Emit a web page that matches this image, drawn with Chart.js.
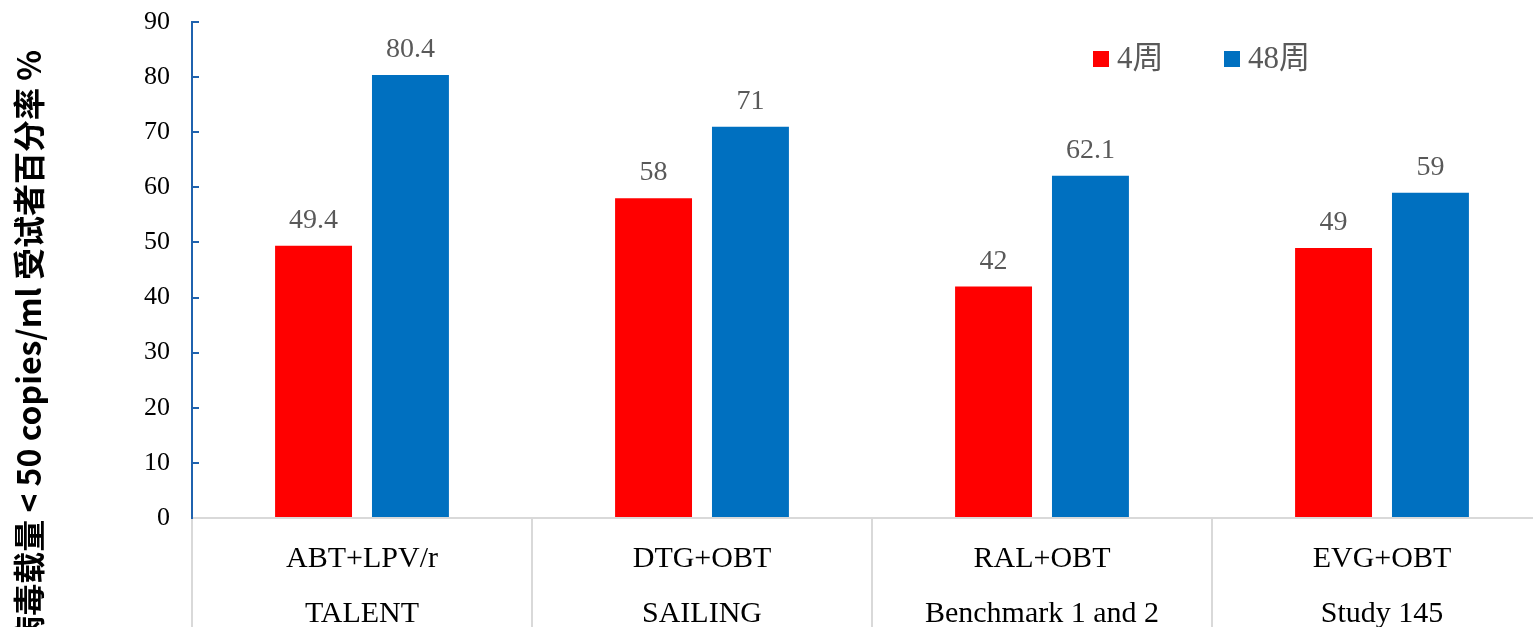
<!DOCTYPE html>
<html>
<head>
<meta charset="utf-8">
<script src="https://cdn.jsdelivr.net/npm/chart.js@4.4.1/dist/chart.umd.min.js"></script>
<style>
  html, body { margin: 0; padding: 0; background: #fff; overflow: hidden; }
  #wrap { width: 1560px; height: 700px; }
</style>
</head>
<body>
<div id="wrap"><canvas id="c" width="1560" height="700"></canvas></div>
<script>
// Trial regimens and study names (two-line category labels)
const regimens = ['ABT+LPV/r', 'DTG+OBT', 'RAL+OBT', 'EVG+OBT'];
const studies = ['TALENT', 'SAILING', 'Benchmark 1 and 2', 'Study 145'];
// Percentage of subjects with viral load < 50 copies/ml
const week4 = [49.4, 58, 42, 49];
const week48 = [80.4, 71, 62.1, 59];
const seriesNames = ['4周', '48周'];
const yTicks = [0, 10, 20, 30, 40, 50, 60, 70, 80, 90];
const yTitle = '病毒载量 < 50 copies/ml 受试者百分率 %';

const RED = '#FF0000';
const BLUE = '#0070C0';
const SERIF = '"Liberation Serif", "Times New Roman", serif';

// value labels above every bar
const valueLabels = {
  id: 'valueLabels',
  afterDatasetsDraw(chart) {
    const ctx = chart.ctx;
    ctx.save();
    ctx.font = '28px ' + SERIF;
    ctx.fillStyle = '#595959';
    ctx.textAlign = 'center';
    ctx.textBaseline = 'alphabetic';
    chart.data.datasets.forEach((ds, di) => {
      chart.getDatasetMeta(di).data.forEach((bar, i) => {
        ctx.fillText(String(ds.data[i]), bar.x, bar.y - 18);
      });
    });
    ctx.restore();
  }
};

// legend with square swatches inside the plot
const swatchLegend = {
  id: 'swatchLegend',
  afterDraw(chart) {
    const ctx = chart.ctx;
    const pos = [1093, 1224];
    ctx.save();
    ctx.font = '31px ' + SERIF + ', "Noto Sans CJK SC"';
    ctx.textBaseline = 'middle';
    ctx.textAlign = 'left';
    chart.data.datasets.forEach((ds, di) => {
      ctx.fillStyle = ds.backgroundColor;
      ctx.fillRect(pos[di], 51, 16, 16);
      ctx.fillStyle = '#595959';
      ctx.fillText(ds.label, pos[di] + 24, 60);
    });
    ctx.restore();
  }
};

// rotated y-axis title
const yAxisTitle = {
  id: 'yAxisTitle',
  afterDraw(chart) {
    const ctx = chart.ctx;
    ctx.save();
    ctx.translate(29, 50);
    ctx.rotate(-Math.PI / 2);
    ctx.font = 'bold 32px "Noto Sans CJK SC", "Noto Sans", sans-serif';
    ctx.fillStyle = '#000';
    ctx.textAlign = 'right';
    ctx.textBaseline = 'middle';
    ctx.fillText(yTitle, 0, 0);
    ctx.restore();
  }
};

new Chart(document.getElementById('c'), {
  type: 'bar',
  data: {
    labels: regimens.map((r, i) => [r, studies[i]]),
    datasets: [
      { label: seriesNames[0], data: week4, backgroundColor: RED },
      { label: seriesNames[1], data: week48, backgroundColor: BLUE }
    ]
  },
  options: {
    responsive: false,
    animation: false,
    devicePixelRatio: 1,
    layout: { padding: { top: 22, right: 8, left: 0, bottom: 0 } },
    datasets: { bar: { categoryPercentage: 0.57, barPercentage: 0.794 } },
    plugins: { legend: { display: false }, tooltip: { enabled: false } },
    scales: {
      x: {
        offset: true,
        border: { color: '#D9D9D9', width: 2 },
        grid: { drawOnChartArea: false, color: '#D9D9D9', lineWidth: 2, tickLength: 200, offset: true },
        ticks: {
          color: '#000',
          font: { family: SERIF, size: 30, lineHeight: 1.83 },
          padding: -186,
          maxRotation: 0
        },
        afterFit(scale) { scale.height = 700 - 518; }
      },
      y: {
        min: 0,
        max: 90,
        afterBuildTicks(scale) { scale.ticks = yTicks.map(v => ({ value: v })); },
        border: { color: '#1F62AE', width: 2 },
        grid: { drawOnChartArea: false, color: '#1F62AE', lineWidth: 2, tickLength: -7 },
        ticks: { color: '#000', font: { family: SERIF, size: 26 }, padding: 29 },
        afterFit(scale) {
          scale.width = 192;
          scale.paddingTop = 0;
          scale.paddingBottom = 0;
        }
      }
    }
  },
  plugins: [valueLabels, swatchLegend, yAxisTitle]
});
</script>
</body>
</html>
